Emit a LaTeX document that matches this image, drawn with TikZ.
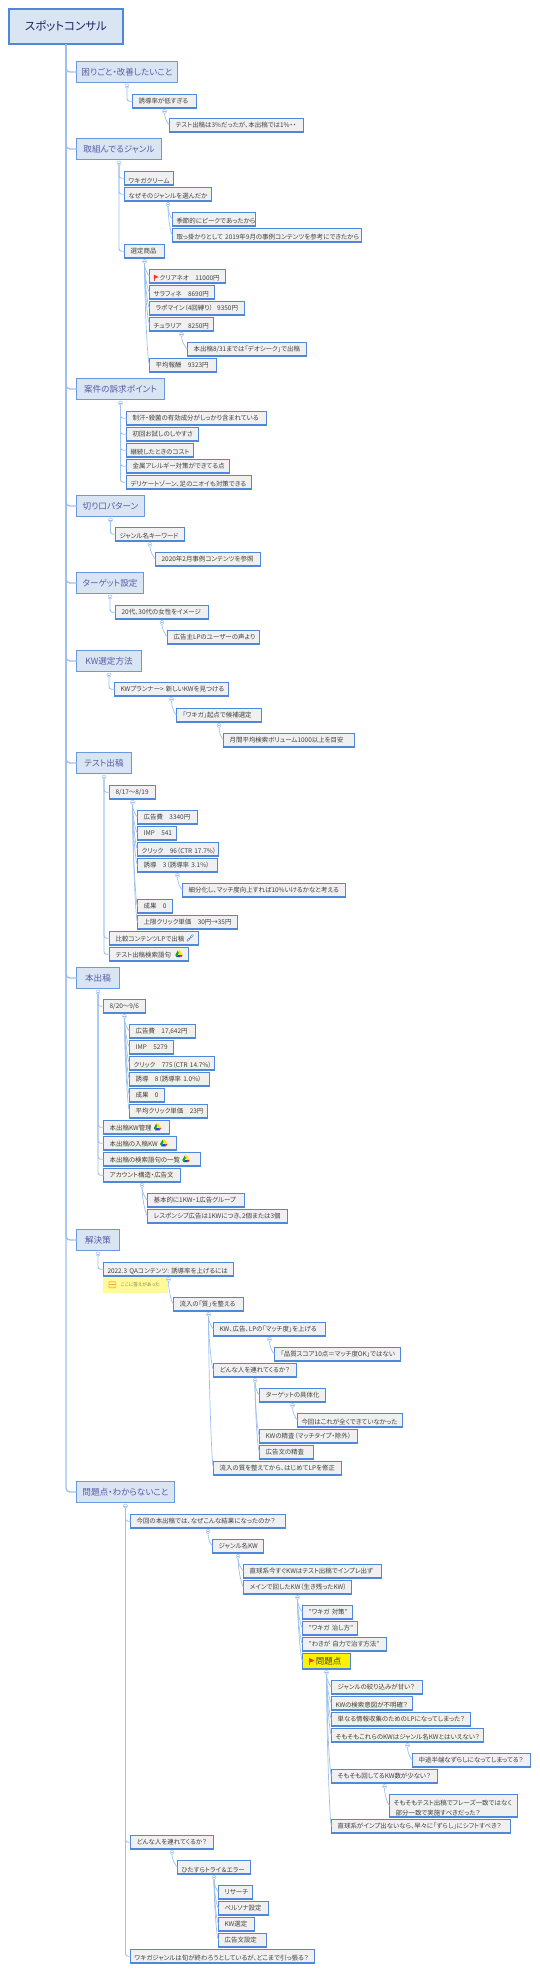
\documentclass[tikz,border=0pt]{standalone}
\usepackage{fontspec}
\setmainfont{Noto Sans CJK JP}[RawFeature=+palt]
\usetikzlibrary{positioning,calc}

\definecolor{edgeblue}{HTML}{4F88DA}
\definecolor{linkblue}{HTML}{9DC0EF}
\definecolor{topicfill}{HTML}{DAE5F3}
\definecolor{leaffill}{HTML}{F0F0F0}

\newcommand{\flagicon}{\tikz[x=1pt,y=1pt,baseline=0pt]{
    \draw[red!55!orange!60!gray,line width=.6pt] (0,-.5)--(0,6);
    \fill[red!75!orange!90] (0,6.2)--(4.8,3.8)--(0,1.8)--cycle;}}
\newcommand{\linkicon}{\tikz[x=1pt,y=1pt,baseline=0pt]{
    \draw[edgeblue,line width=1.9pt,line cap=round] (0.9,0.9)--(3,3) (4.2,4.2)--(6.2,6.2);
    \draw[white,line width=.7pt,line cap=round] (1.2,1.2)--(2.8,2.8) (4.4,4.4)--(6,6);
    \draw[edgeblue,line width=.8pt] (2.6,2.6)--(4.5,4.5);}}
\newcommand{\driveicon}{\tikz[x=1pt,y=1pt,baseline=0pt]{
    \fill[green!55!black!85] (2.4,6.6)--(3.7,4.4)--(1.3,0.1)--(0,2.2)--cycle;
    \fill[yellow!85!orange] (2.4,6.6)--(4.8,6.6)--(7.3,2.3)--(4.9,2.3)--cycle;
    \fill[blue!70!cyan] (1.3,0)--(4.6,0)--(5.8,2.2)--(2.6,2.2)--cycle;
    \fill[red!75!orange] (4.6,0)--(5.9,0)--(7.3,2.2)--(5.8,2.2)--cycle;}}

\begin{document}
\begin{tikzpicture}[x=1pt, y=-1pt, shift={(0.5,0.5)},
                root/.style={rectangle, draw=edgeblue, fill=topicfill, line width=2.2pt, outer sep=0pt,
                    anchor=north west, minimum width=114pt, minimum height=35pt, text=blue!35!black!75!gray,
                    font=\fontsize{11.5}{13}\selectfont},
                topic/.style={rectangle, draw=edgeblue!85, fill=topicfill, line width=1pt, outer sep=0pt,
                    anchor=north west, minimum width=#1pt-1pt, minimum height=21pt, inner xsep=2pt,
                    text=blue!30!gray, font=\fontsize{8.6}{10}\selectfont},
                leaf/.style={rectangle, draw=edgeblue, fill=leaffill, line width=1.4pt, outer sep=0pt,
                    anchor=north west, text width=#1pt-9pt, inner xsep=4pt, inner ysep=0pt, align=left,
                    minimum height=13.4pt, text=black!75, font=\fontsize{6.45}{10}\selectfont},
                foldmark/.style={circle, draw=linkblue, fill=white, line width=.5pt, inner sep=0pt,
                    minimum size=4pt, path picture={\draw[linkblue,line width=.4pt]
                    ([xshift=-1.2pt]path picture bounding box.center)--([xshift=1.2pt]path picture bounding box.center);}},
                link/.style={draw=linkblue, line width=.9pt, rounded corners=2.5pt},
                fanlink/.style={draw=linkblue, line width=.7pt,
                    to path={.. controls ($(\tikztostart)!0.35!(\tikztostart |- \tikztotarget)$) and ($(\tikztotarget)+(-2,-1.5)$) .. (\tikztotarget)}}
            ]
\useasboundingbox (-0.5,-0.5) rectangle (538.5,1970.5);

% --- main headings ---
\node[root] (root) at (8.5,8.5) {スポットコンサル};
\node[topic=102] (t1) at (76,61)   {困りごと・改善したいこと};
\node[topic=86]  (t2) at (76,138)  {取組んでるジャンル};
\node[topic=89]  (t3) at (76,378)  {案件の訴求ポイント};
\node[topic=69]  (t4) at (76,495)  {切り口パターン};
\node[topic=68]  (t5) at (76,572)  {ターゲット設定};
\node[topic=66]  (t6) at (76,650)  {KW選定方法};
\node[topic=56]  (t7) at (76,752)  {テスト出稿};
\node[topic=44]  (t8) at (76,967)  {本出稿};
\node[topic=44]  (t9) at (76,1229) {解決策};
\node[topic=99]  (t10) at (76,1481) {問題点・わからないこと};

% --- issue ---
\node[leaf=65]  (a1) at (132,94)  {\ 誘導率が低すぎる};
\node[leaf=135] (a2) at (169,118) {\ テスト出稿は3\%だったが、本出稿では1\%・・};

% --- genre ---
\node[leaf=50]  (b1) at (124,171) {\ ワキガクリーム};
\node[leaf=88]  (b2) at (124,187) {\ なぜそのジャンルを選んだか};
\node[leaf=84]  (b3) at (172,212) {\ 季節的にピークであったから};
\node[leaf=190] (b4) at (172,228) {\ 取っ掛かりとして~2019年9月の事例コンテンツを参考にできたから};
\node[leaf=41]  (b5) at (124,244) {\ 選定商品};
\node[leaf=77]  (b6) at (149,269) {\ \flagicon\,クリアネオ~~~11000円};
\node[leaf=66]  (b7) at (149,285) {\ サラフィネ~~~8690円};
\node[leaf=96]  (b8) at (149,301) {\ ラポマイン（4回縛り）~~9350円};
\node[leaf=65]  (b9) at (149,317) {\ チュラリア~~~8250円};
\node[leaf=120] (b10) at (187,342) {\ 本出稿8/31までは「デオシーク」で出稿};
\node[leaf=68]  (b11) at (149,358) {\ 平均報酬~~~9323円};

% --- appeal ---
\node[leaf=141] (c1) at (126,411) {\ 制汗・殺菌の有効成分がしっかり含まれている};
\node[leaf=73]  (c2) at (126,427) {\ 初回お試しのしやすさ};
\node[leaf=68]  (c3) at (126,443) {\ 継続したときのコスト};
\node[leaf=104] (c4) at (126,459) {\ 金属アレルギー対策ができてる点};
\node[leaf=126] (c5) at (126,475) {\ デリケートゾーン、足のニオイも対策できる};

% --- angle ---
\node[leaf=70]  (d1) at (115,527) {\ ジャンル名キーワード};
\node[leaf=106] (d2) at (155,552) {\ 2020年2月事例コンテンツを参照};

% --- target ---
\node[leaf=94] (e1) at (115,605) {\ 20代、30代の女性をイメージ};
\node[leaf=93] (e2) at (167,630) {\ 広告主LPのユーザーの声より};

% --- keyword choice ---
\node[leaf=115] (f1) at (114,682) {\ \mbox{KWプランナー>~新しいKWを見つける}};
\node[leaf=86]  (f2) at (176,708) {\ 「ワキガ」起点で候補選定};
\node[leaf=132] (f3) at (223,733) {\ 月間平均検索ボリューム1000以上を目安};

% --- test run ---
\node[leaf=47]  (g1) at (109,785) {\ 8/17〜8/19};
\node[leaf=61]  (g2) at (137,810) {\ 広告費~~~3340円};
\node[leaf=40]  (g3) at (137,826) {\ IMP~~~541};
\node[leaf=82]  (g4) at (137,842) {\ クリック~~~96（CTR~17.7\%）};
\node[leaf=81]  (g5) at (137,858) {\ 誘導~~~3（誘導率~3.1\%）};
\node[leaf=164] (g6) at (182,883) {\ 細分化し、マッチ度向上すれば10\%いけるかなと考える};
\node[leaf=36]  (g7) at (137,899) {\ 成果~~~0};
\node[leaf=101] (g8) at (137,915) {\ 上限クリック単価~~~30円→35円};
\node[leaf=90]  (g9) at (109,931) {\ 比較コンテンツLPで出稿~\linkicon};
\node[leaf=80]  (g10) at (109,947) {\ テスト出稿検索語句~~\driveicon};

% --- live run ---
\node[leaf=43]  (h1) at (103,999) {\ 8/20〜9/6};
\node[leaf=67]  (h2) at (129,1024) {\ 広告費~~~17,642円};
\node[leaf=45]  (h3) at (129,1040) {\ IMP~~~5279};
\node[leaf=86]  (h4) at (129,1056) {\ クリック~~~775（CTR~14.7\%）};
\node[leaf=81]  (h5) at (129,1072) {\ 誘導~~~8（誘導率~1.0\%）};
\node[leaf=36]  (h6) at (129,1088) {\ 成果~~~0};
\node[leaf=79]  (h7) at (129,1104) {\ 平均クリック単価~~~23円};
\node[leaf=67]  (h8) at (103,1120) {\ 本出稿KW管理~\driveicon};
\node[leaf=74]  (h9) at (103,1136) {\ 本出稿の入稿KW~\driveicon};
\node[leaf=98]  (h10) at (103,1152) {\ 本出稿の検索語句の一覧~\driveicon};
\node[leaf=78]  (h11) at (103,1168) {\ アカウント構造・広告文};
\node[leaf=98]  (h12) at (147,1193) {\ 基本的に1KW・1広告グループ};
\node[leaf=141] (h13) at (147,1209) {\ レスポンシブ広告は1KWにつき、2個または3個};

% --- solution ---
\node[leaf=131] (i1) at (103,1262) {\ 2022.3~QAコンテンツ:~誘導率を上げるには};
\node[rectangle, fill=yellow!40, outer sep=0pt, text width=54pt,
      minimum height=15.5pt, inner xsep=5.5pt, inner ysep=0pt, text=black!55!yellow!85!gray,
      font=\fontsize{4.7}{6}\selectfont, anchor=north west] (note) at (102.5,1276.5)
      {\tikz[x=1pt,y=1pt,baseline=.5pt]{\draw[orange!70,line width=.6pt,fill=yellow!50,rounded corners=.6pt] (0,-1)rectangle(7,5);
       \draw[orange!70,line width=.6pt] (0,2)--(7,2);}~~~ここに答えがあった};
\node[leaf=71]  (i2) at (173,1297) {\ 流入の「質」を整える};
\node[leaf=113] (i3) at (213,1322) {\ KW、広告、LPの「マッチ度」を上げる};
\node[leaf=127] (i4) at (274,1347) {\ 「品質スコア10点＝マッチ度OK」ではない};
\node[leaf=84]  (i5) at (213,1363) {\ どんな人を連れてくるか？};
\node[leaf=67]  (i6) at (259,1388) {\ ターゲットの具体化};
\node[leaf=106] (i7) at (297,1413) {\ 今回はこれが全くできていなかった};
\node[leaf=99]  (i8) at (259,1429) {\ KWの精査（マッチタイプ・除外）};
\node[leaf=55]  (i9) at (259,1445) {\ 広告文の精査};
\node[leaf=129] (i10) at (213,1461) {\ 流入の質を整えてから、はじめてLPを修正};

% --- open questions ---
\node[leaf=156] (j1) at (130,1514) {\ 今回の本出稿では、なぜこんな結果になったのか？};
\node[leaf=52]  (j2) at (212,1539) {\ ジャンル名KW};
\node[leaf=139] (j3) at (243,1564) {\ \mbox{直球系今すぐKWはテスト出稿でインプレ出ず}};
\node[leaf=109] (j4) at (243,1580) {\ \mbox{メインで回したKW（生き残ったKW）}};
\node[leaf=51]  (j5) at (302,1605) {\ "ワキガ~対策"};
\node[leaf=56]  (j6) at (302,1621) {\ "ワキガ~治し方"};
\node[leaf=85]  (j7) at (302,1637) {\ "わきが~自力で治す方法"};
\node[leaf=49, fill=yellow, minimum height=15.4pt, font=\fontsize{8.5}{10}\selectfont] (j8) at (302,1653) {\ \flagicon\,問題点};
\node[leaf=92]  (j9) at (331,1680) {\ ジャンルの絞り込みが甘い？};
\node[leaf=82]  (j10) at (331,1696) {\ \mbox{KWの検索意図が不明確？}};
\node[leaf=140] (j11) at (331,1712) {\ \mbox{単なる情報収集のためのLPになってしまった？}};
\node[leaf=153] (j12) at (331,1728) {\ \mbox{そもそもこれらのKWはジャンル名KWとはいえない？}};
\node[leaf=119] (j13) at (412,1753) {\ 中途半端なずらしになってしまってる？};
\node[leaf=107] (j14) at (331,1769) {\ \mbox{そもそも回してるKW数が少ない？}};
\node[leaf=129, minimum height=22.4pt] (j15) at (389,1794) {\ そもそもテスト出稿でフレーズ一致ではなく\\\ 部分一致で実施すべきだった？};
\node[leaf=180] (j16) at (331,1819) {\ 直球系がインプ出ないなら、早々に「ずらし」にシフトすべき？};
\node[leaf=84]  (j17) at (130,1835) {\ どんな人を連れてくるか？};
\node[leaf=74]  (j18) at (177,1860) {\ ひたすらトライ＆エラー};
\node[leaf=35]  (j19) at (218,1885) {\ リサーチ};
\node[leaf=51]  (j20) at (218,1901) {\ ペルソナ設定};
\node[leaf=37]  (j21) at (218,1917) {\ KW選定};
\node[leaf=49]  (j22) at (218,1933) {\ 広告文設定};
\node[leaf=185] (j23) at (130,1949) {\ ワキガジャンルは旬が終わろうとしているが、どこまで引っ張る？};

% --- fold marks ---
\foreach \p in {t1,t2,t3,t4,t5,t6,t7,t8,t9,t10,a1,b2,b5,b9,d1,e1,f1,f2,g1,g5,h1,h11,i1,i2,i3,i5,i6,j1,j2,j4,j8,j12,j14,j17,j18}
    \node[foldmark, below=1.2pt of \p] (f-\p) {};

% --- connectors ---
\foreach \t in {t1,t2,t3,t4,t5,t6,t7,t8,t9,t10}
    \draw[link, line width=1.3pt, rounded corners=4pt] (root.south) |- (\t.west);
\foreach \a/\b in {t1/a1,t2/b1,t2/b2,t2/b5,t3/c1,t3/c2,t3/c3,t3/c4,t3/c5,t4/d1,t5/e1,t6/f1,t7/g1,t7/g9,t7/g10,
                   t8/h1,t8/h8,t8/h9,t8/h10,t8/h11,t9/i1,t10/j1,t10/j17,t10/j23}
    \draw[link] (f-\a.south) |- (\b.west);
\foreach \a/\b in {a1/a2,b2/b3,b2/b4,b5/b6,b5/b7,b5/b8,b5/b9,b5/b11,b9/b10,d1/d2,e1/e2,f1/f2,f2/f3,
                   g1/g2,g1/g3,g1/g4,g1/g5,g1/g7,g1/g8,g5/g6,h1/h2,h1/h3,h1/h4,h1/h5,h1/h6,h1/h7,h11/h12,h11/h13,
                   i1/i2,i2/i3,i2/i5,i2/i10,i3/i4,i5/i6,i5/i8,i5/i9,i6/i7,
                   j1/j2,j2/j3,j2/j4,j4/j5,j4/j6,j4/j7,j4/j8,j8/j9,j8/j10,j8/j11,j8/j12,j8/j14,j8/j16,j12/j13,j14/j15,
                   j17/j18,j18/j19,j18/j20,j18/j21,j18/j22}
    \draw[fanlink] (f-\a.south) to (\b.west);

\end{tikzpicture}
\end{document}
